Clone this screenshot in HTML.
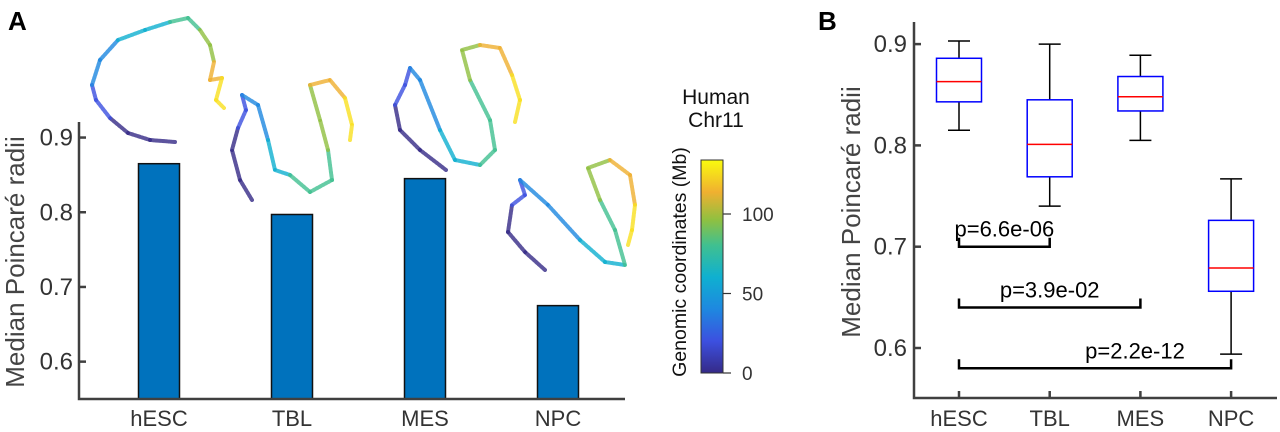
<!DOCTYPE html>
<html><head><meta charset="utf-8"><style>
html,body{margin:0;padding:0;background:#fff;width:1280px;height:432px;overflow:hidden}
svg{display:block;font-family:"Liberation Sans",Arial,sans-serif}
</style></head><body>
<svg id="fig" width="1280" height="432" viewBox="0 0 1280 432">
<defs>
<linearGradient id="parula" x1="0" y1="1" x2="0" y2="0">
<stop offset="0" stop-color="#352a87"/><stop offset="0.15" stop-color="#3c50e0"/><stop offset="0.3" stop-color="#1e88e0"/>
<stop offset="0.45" stop-color="#0fb0d0"/><stop offset="0.6" stop-color="#40c090"/><stop offset="0.72" stop-color="#90c040"/>
<stop offset="0.85" stop-color="#f0b030"/><stop offset="1" stop-color="#f9fb0e"/>
</linearGradient>
</defs>
<g id="panelA"></g>
<g id="panelB"></g>
</svg>
<script>
// Panel A data
const catsA = ["hESC","TBL","MES","NPC"];
const barVals = [0.865, 0.797, 0.845, 0.675];
const ticksA = [0.6, 0.7, 0.8, 0.9];
// Panel B data
const catsB = ["hESC","TBL","MES","NPC"];
const whiskLo = [0.815, 0.740, 0.805, 0.594];
const q1 = [0.843, 0.769, 0.834, 0.656];
const med = [0.863, 0.801, 0.848, 0.679];
const q3 = [0.886, 0.845, 0.868, 0.726];
const whiskHi = [0.903, 0.900, 0.889, 0.767];
const ticksB = [0.6, 0.7, 0.8, 0.9];
const pLabels = ["p=6.6e-06","p=3.9e-02","p=2.2e-12"];
const pPairs = [[0,1],[0,2],[0,3]];
const pLevels = [0.700, 0.640, 0.580];
const cbTicks = [0, 50, 100];

const NS="http://www.w3.org/2000/svg";
function el(tag, attrs, parent, txt){const e=document.createElementNS(NS,tag);for(const k in attrs)e.setAttribute(k,attrs[k]);if(txt!==undefined)e.textContent=txt;parent.appendChild(e);return e;}
const A=document.getElementById('panelA'), B=document.getElementById('panelB');
const AX='#404040';

// ---------- Panel A ----------
const yA=v=>399-(v-0.55)*747;
const xA=i=>159+i*133;
let t=el('text',{x:8,y:30,'font-size':26,'font-weight':'bold',fill:'#000'},A,'A');



const parCols=['#352a87','#3c50e0','#1e88e0','#0fb0d0','#40c090','#90c040','#f0b030','#f9e020'];
const curves=[
 [[175,142],[150,140],[128,133],[110,118],[96,100],[92,85],[100,60],[118,40],[145,30],[170,22],[188,18],[200,30],[210,45],[214,62],[210,80],[222,78],[216,100],[224,108]],
 [[252,200],[240,180],[232,150],[238,128],[246,110],[242,95],[258,105],[268,140],[275,170],[290,175],[310,192],[332,180],[328,150],[320,120],[310,85],[330,80],[345,98],[352,125],[350,140]],
 [[446,170],[420,150],[400,130],[395,105],[405,85],[410,68],[420,80],[440,130],[455,160],[480,165],[495,150],[490,120],[470,80],[462,50],[480,45],[500,48],[512,75],[520,100],[515,122]],
 [[545,270],[525,252],[508,232],[512,205],[525,195],[520,180],[548,205],[580,240],[605,262],[625,265],[615,230],[600,200],[588,168],[610,160],[630,175],[635,205],[632,230],[628,245]]
];
curves.forEach((c,ci)=>{
 const g=el('g',{},A);
 
 
 for(let i=0;i<c.length-1;i++){
  const col=parCols[Math.min(7,Math.floor(i/(c.length-1)*8))];
  el('line',{x1:c[i][0],y1:c[i][1],x2:c[i+1][0],y2:c[i+1][1],stroke:col,'stroke-width':4,'stroke-dasharray':'2 1.5','stroke-linecap':'round',opacity:0.8},g);
 }
});

barVals.forEach((v,i)=>{
 const r=el('rect',{x:xA(i)-20.5,y:yA(v),width:41,height:399-yA(v),fill:'#0072bd',stroke:'#111','stroke-width':1.5},A);
 
 
 const l=el('text',{x:xA(i),y:426,'font-size':22,'text-anchor':'middle',fill:'#333'},A,catsA[i]);
 
 
});
let ax=el('path',{d:'M79,122 V399 H625',stroke:AX,'stroke-width':2.5,fill:'none'},A);


ticksA.forEach(v=>{
 el('line',{x1:79,x2:86,y1:yA(v),y2:yA(v),stroke:AX,'stroke-width':2.5},A);
 const l=el('text',{x:73,y:yA(v)+8,'font-size':24,'text-anchor':'end',fill:'#333'},A,v.toFixed(1));
 
 
});
let yt=el('text',{transform:'translate(24,262) rotate(-90)','font-size':26,'text-anchor':'middle',fill:'#444'},A,'Median Poincaré radii');



const cbY=v=>373-v*1.59;
let cb=el('rect',{x:701,y:160,width:22,height:213,fill:'url(#parula)',stroke:'#333','stroke-width':1},A);


cbTicks.forEach(v=>{
 el('line',{x1:723,x2:731,y1:cbY(v),y2:cbY(v),stroke:'#333','stroke-width':1.2},A);
 const l=el('text',{x:742,y:cbY(v)+7,'font-size':19,fill:'#333'},A,String(v));
 
 
});
let h1=el('text',{x:716,y:104,'font-size':21,'text-anchor':'middle',fill:'#111'},A,'Human');


let h2=el('text',{x:716,y:127,'font-size':21,'text-anchor':'middle',fill:'#111'},A,'Chr11');


let cbl=el('text',{transform:'translate(686,262) rotate(-90)','font-size':19.5,'text-anchor':'middle',fill:'#111'},A,'Genomic coordinates (Mb)');



// ---------- Panel B ----------
const yB=v=>348-(v-0.6)*1013;
const xB=i=>959+i*90.7;
t=el('text',{x:818,y:30,'font-size':26,'font-weight':'bold',fill:'#000'},B,'B');


catsB.forEach((c,i)=>{
 const g=el('g',{},B);
 
 
 const x=xB(i);
 el('line',{x1:x,x2:x,y1:yB(whiskHi[i]),y2:yB(q3[i]),stroke:'#000','stroke-width':1.5},g);
 el('line',{x1:x,x2:x,y1:yB(q1[i]),y2:yB(whiskLo[i]),stroke:'#000','stroke-width':1.5},g);
 el('line',{x1:x-11,x2:x+11,y1:yB(whiskHi[i]),y2:yB(whiskHi[i]),stroke:'#000','stroke-width':1.5},g);
 el('line',{x1:x-11,x2:x+11,y1:yB(whiskLo[i]),y2:yB(whiskLo[i]),stroke:'#000','stroke-width':1.5},g);
 el('rect',{x:x-22.5,y:yB(q3[i]),width:45,height:yB(q1[i])-yB(q3[i]),fill:'#fff',stroke:'#0000ff','stroke-width':1.5},g);
 el('line',{x1:x-22.5,x2:x+22.5,y1:yB(med[i]),y2:yB(med[i]),stroke:'#ff0000','stroke-width':1.5},g);
 const l=el('text',{x:x,y:426,'font-size':22,'text-anchor':'middle',fill:'#333'},B,c);
 
 
});
pLabels.forEach((p,k)=>{
 const g=el('g',{},B);
 
 
 const x1=xB(pPairs[k][0]), x2=xB(pPairs[k][1]), y=yB(pLevels[k]);
 el('path',{d:`M${x1},${y-9} V${y} H${x2} V${y-9}`,stroke:'#000','stroke-width':2.5,fill:'none'},g);
 const cx = k===2 ? 1135 : (x1+x2)/2;
 el('text',{x:cx,y:y-10,'font-size':22,'text-anchor':'middle',fill:'#000'},g,p);
});
ax=el('path',{d:'M914,22 V398 H1277',stroke:AX,'stroke-width':2.5,fill:'none'},B);


ticksB.forEach(v=>{
 el('line',{x1:914,x2:921,y1:yB(v),y2:yB(v),stroke:AX,'stroke-width':2.5},B);
 const l=el('text',{x:907,y:yB(v)+8,'font-size':24,'text-anchor':'end',fill:'#333'},B,v.toFixed(1));
 
 
});
catsB.forEach((c,i)=>{el('line',{x1:xB(i),x2:xB(i),y1:398,y2:391,stroke:AX,'stroke-width':2.5},B);});
yt=el('text',{transform:'translate(860,212) rotate(-90)','font-size':26,'text-anchor':'middle',fill:'#444'},B,'Median Poincaré radii');


</script>
</body></html>
